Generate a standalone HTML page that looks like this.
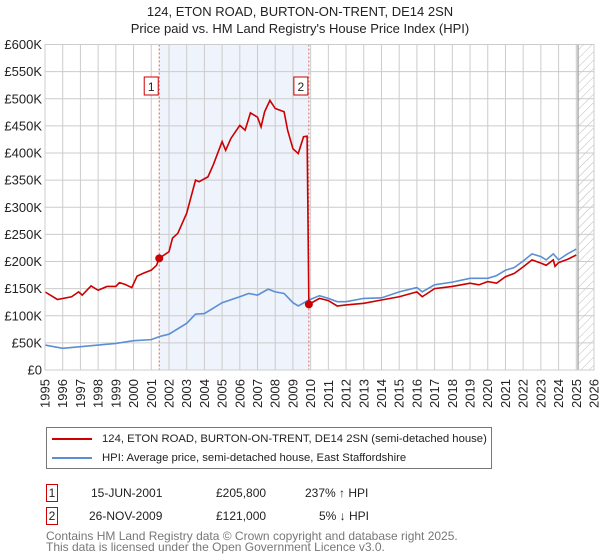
<!DOCTYPE html>
<html><head><meta charset="utf-8"><style>
body{margin:0;background:#fff;font-family:"Liberation Sans","DejaVu Sans",sans-serif;}
#wrap{position:relative;width:600px;height:560px;overflow:hidden;}
</style></head><body><div id="wrap">
<svg id="c" width="600" height="560" style="position:absolute;left:0;top:0">
<defs><pattern id="hatch" width="6" height="6" patternUnits="userSpaceOnUse" patternTransform="rotate(45)"><line x1="0" y1="0" x2="0" y2="6" stroke="#bbb" stroke-width="1"/></pattern></defs>
<text x="300" y="16" text-anchor="middle" font-size="13" fill="#222">124, ETON ROAD, BURTON-ON-TRENT, DE14 2SN</text>
<text x="300" y="33" text-anchor="middle" font-size="13" fill="#222">Price paid vs. HM Land Registry's House Price Index (HPI)</text>
</svg>
<script>
const yTicks=[0,50,100,150,200,250,300,350,400,450,500,550,600];
const yLabels=["£0","£50K","£100K","£150K","£200K","£250K","£300K","£350K","£400K","£450K","£500K","£550K","£600K"];
const xYears=[1995,1996,1997,1998,1999,2000,2001,2002,2003,2004,2005,2006,2007,2008,2009,2010,2011,2012,2013,2014,2015,2016,2017,2018,2019,2020,2021,2022,2023,2024,2025,2026];
const hpiT=[1995,1996,1997,1998,1999,2000,2001,2001.5,2002,2003,2003.5,2004,2004.5,2005,2006,2006.5,2007,2007.6,2008,2008.5,2009,2009.3,2009.9,2010.5,2011,2011.5,2012,2013,2014,2015,2016,2016.3,2017,2018,2019,2020,2020.5,2021,2021.5,2022,2022.5,2023,2023.3,2023.7,2024,2024.5,2025];
const hpiV=[46,40,43,46,49,54,56,62,66,86,103,104,114,124,135,141,138,149,144,141,124,118,129,137,132,126,126,132,133,144,152,144,157,162,169,169,174,184,189,201,214,209,203,214,203,214,223];
const redT=[1995,1995.7,1996.5,1996.9,1997.1,1997.6,1998,1998.5,1999,1999.2,1999.5,1999.9,2000.2,2000.6,2001,2001.3,2001.45,2002,2002.2,2002.5,2003,2003.5,2003.7,2004.2,2004.5,2005,2005.2,2005.5,2006,2006.3,2006.6,2007,2007.2,2007.4,2007.7,2008,2008.5,2008.7,2009,2009.3,2009.6,2009.8,2009.9,2010.5,2011,2011.5,2012,2013,2014,2015,2016,2016.3,2017,2018,2019,2019.5,2020,2020.5,2021,2021.5,2022,2022.5,2023,2023.3,2023.7,2023.8,2024,2024.5,2025];
const redV=[144,130,135,144,138,155,147,154,154,161,158,152,173,179,184,193,206,218,243,252,289,350,347,356,378,421,405,427,451,442,474,466,448,476,497,482,476,442,408,399,430,431,121,132,128,118,120,123,129,135,144,135,150,154,160,157,163,160,172,178,190,203,197,193,203,191,198,204,212];
const saleT=[2001.45,2009.9];
const saleV=[205.8,121];
const X0=45,X1=594,Y0=370,Y1=44.5;
const xs=t=>X0+(t-1995)/(2026-1995)*(X1-X0);
const ys=v=>Y0-v/600*(Y0-Y1);
const svg=document.getElementById('c');const NS='http://www.w3.org/2000/svg';
function mk(tag,at,parent){const e=document.createElementNS(NS,tag);for(const k in at)e.setAttribute(k,at[k]);(parent||svg).appendChild(e);return e;}
let r=mk('rect',{x:xs(saleT[0]),y:Y1,width:xs(saleT[1])-xs(saleT[0]),height:Y0-Y1,fill:'#eef3fc'});


r=mk('rect',{x:xs(2025.1),y:Y1,width:X1-xs(2025.1),height:Y0-Y1,fill:'url(#hatch)'});


yTicks.forEach((v,i)=>{
 const l=mk('line',{x1:X0,x2:X1,y1:ys(v),y2:ys(v),stroke:'#ccc','stroke-width':1});
 
 
 const t=mk('text',{x:X0-3,y:ys(v)+4.5,'text-anchor':'end','font-size':13,fill:'#222'});t.textContent=yLabels[i];
 
 
});
xYears.forEach(y=>{
 const l=mk('line',{x1:xs(y),x2:xs(y),y1:Y1,y2:Y0,stroke:'#ccc','stroke-width':1});
 
 
 const t=mk('text',{x:0,y:0,'font-size':13,fill:'#222',transform:`translate(${xs(y)+4.5},${Y0+38}) rotate(-90)`});t.textContent=y;
 
 
});
r=mk('line',{x1:xs(2025.1),x2:xs(2025.1),y1:Y1,y2:Y0,stroke:'#999','stroke-width':1.2});


saleT.forEach((t,i)=>{
 const l=mk('line',{x1:xs(t),x2:xs(t),y1:Y1,y2:Y0,stroke:'#e06060','stroke-width':1,'stroke-dasharray':'2,2'});
 
 
 const b=mk('rect',{x:xs(t)-15,y:77,width:14,height:18,fill:'#fff',stroke:'#c00','stroke-width':1});
 
 
 const tx=mk('text',{x:xs(t)-8,y:91,'text-anchor':'middle','font-size':12,fill:'#222'});tx.textContent=String(i+1);
 
 
});
let p=mk('polyline',{points:hpiT.map((t,i)=>xs(t)+','+ys(hpiV[i])).join(' '),fill:'none',stroke:'#5b8fd4','stroke-width':1.6});


p=mk('polyline',{points:redT.map((t,i)=>xs(t)+','+ys(redV[i])).join(' '),fill:'none',stroke:'#cc0000','stroke-width':1.6});


saleT.forEach((t,i)=>{
 const c=mk('circle',{cx:xs(t),cy:ys(saleV[i]),r:4,fill:'#cc0000'});
 
 
});
r=mk('rect',{x:X0,y:Y1,width:X1-X0,height:Y0-Y1,fill:'none',stroke:'#ccc'});


</script>
<div style="position:absolute;left:46px;top:427px;width:446px;height:42px;border:1px solid #777;box-sizing:border-box;font-size:11.3px;color:#222">
 <div style="position:absolute;left:5px;top:5px;white-space:nowrap"><span style="display:inline-block;width:40px;height:2px;background:#cc0000;vertical-align:middle;margin-right:10px"></span>124, ETON ROAD, BURTON-ON-TRENT, DE14 2SN (semi-detached house)</div>
 <div style="position:absolute;left:5px;top:24px;white-space:nowrap"><span style="display:inline-block;width:40px;height:2px;background:#5b8fd4;vertical-align:middle;margin-right:10px"></span>HPI: Average price, semi-detached house, East Staffordshire</div>
</div>
<div style="position:absolute;left:46px;top:484px;font-size:12px;color:#222;height:18px;width:400px">
 <span style="position:absolute;left:0;top:0;width:12px;height:18px;border:1px solid #c00;box-sizing:border-box;text-align:center;line-height:16px">1</span>
 <span style="position:absolute;left:45px;top:2px">15-JUN-2001</span><span style="position:absolute;left:170px;top:2px">£205,800</span><span style="position:absolute;left:259px;top:2px">237% ↑ HPI</span></div>
<div style="position:absolute;left:46px;top:507px;font-size:12px;color:#222;height:18px;width:400px">
 <span style="position:absolute;left:0;top:0;width:12px;height:18px;border:1px solid #c00;box-sizing:border-box;text-align:center;line-height:16px">2</span>
 <span style="position:absolute;left:43px;top:2px">26-NOV-2009</span><span style="position:absolute;left:170px;top:2px">£121,000</span><span style="position:absolute;left:273px;top:2px">5% ↓ HPI</span></div>
<div style="position:absolute;left:46px;top:531px;font-size:12px;line-height:11px;color:#777">Contains HM Land Registry data © Crown copyright and database right 2025.<br>This data is licensed under the Open Government Licence v3.0.</div>
</div></body></html>
